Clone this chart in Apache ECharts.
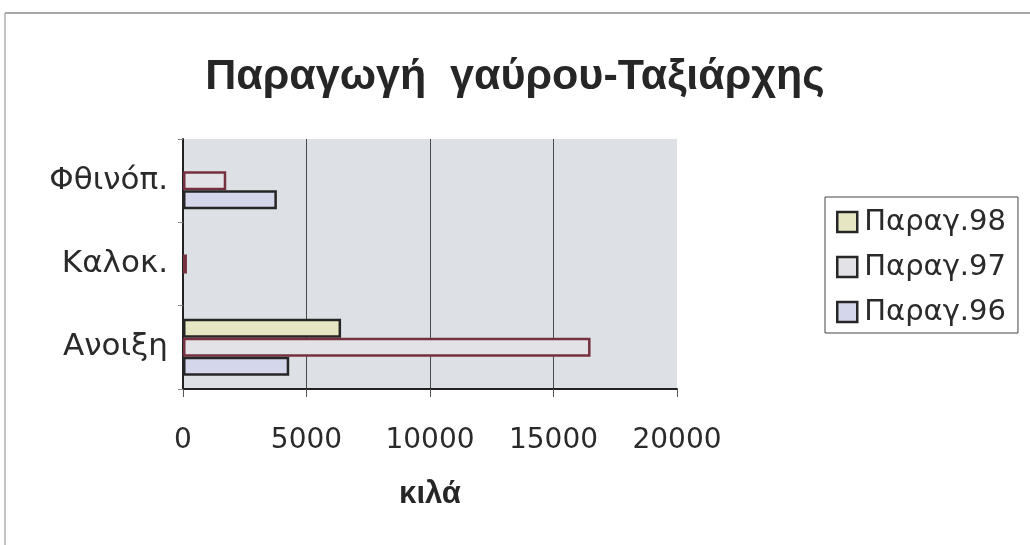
<!DOCTYPE html>
<html>
<head>
<meta charset="utf-8">
<script src="https://cdn.jsdelivr.net/npm/echarts@6/dist/echarts.min.js"></script>
<style>
  html, body { margin: 0; padding: 0; background: #fff; }
  #chart { width: 1030px; height: 545px; }
</style>
</head>
<body>
<div id="chart"></div>
<script>
// εποχές (από κάτω προς τα πάνω)
const seasons = ['Ανοιξη', 'Καλοκ.', 'Φθινόπ.']
// παραγωγή σε κιλά ανά εποχή
const prod98 = [6400, 0, 0]
const prod97 = [16500, 160, 1750]
const prod96 = [4300, 0, 3800]
const xTicks = [0, 5000, 10000, 15000, 20000]

// η πρώτη σειρά μπαίνει πάνω μέσα στην κατηγορία
const seriesNames = ['Παραγ.98', 'Παραγ.97', 'Παραγ.96']
const seriesValues = [prod98, prod97, prod96]
const fills = ['#e6e6c2', '#e3e3e7', '#d4d6ec']
const borders = ['#262626', '#76303f', '#262626']

const myChart = echarts.init(document.getElementById('chart'))

const option = {
  backgroundColor: '#fff',
  animation: false,
  title: {
    text: 'Παραγωγή  γαύρου-Ταξιάρχης',
    left: 'center',
    top: 51,
    textStyle: {
      fontFamily: 'Liberation Sans',
      fontWeight: 'bold',
      fontSize: 43,
      color: '#262626'
    }
  },
  legend: {
    orient: 'vertical',
    left: 825,
    top: 197,
    width: 193,
    padding: [10, 12, 6, 11],
    itemGap: 15,
    itemWidth: 20,
    itemHeight: 20,
    icon: 'rect',
    borderColor: '#444',
    borderWidth: 1,
    data: seriesNames,
    itemStyle: { borderColor: '#262626', borderWidth: 2.5 },
    textStyle: {
      fontFamily: 'DejaVu Sans',
      fontSize: 29,
      lineHeight: 30,
      color: '#2a2a2a',
      padding: [0, 0, 0, 2]
    }
  },
  graphic: [
    { type: 'line', shape: { x1: 5, y1: 13, x2: 1030, y2: 13 }, style: { stroke: '#8a8a8a', lineWidth: 1.5 } },
    { type: 'line', shape: { x1: 5, y1: 13, x2: 5, y2: 545 }, style: { stroke: '#b0b0b0', lineWidth: 1.5 } }
  ],
  grid: {
    left: 183,
    right: 353,
    top: 139,
    bottom: 156,
    show: true,
    backgroundColor: '#dde0e5',
    borderWidth: 0
  },
  xAxis: {
    type: 'value',
    min: xTicks[0],
    max: xTicks[xTicks.length - 1],
    interval: 5000,
    name: 'κιλά',
    nameLocation: 'middle',
    nameGap: 90,
    nameTextStyle: {
      fontFamily: 'Liberation Sans',
      fontWeight: 'bold',
      fontSize: 31,
      color: '#262626'
    },
    axisLine: { show: true, lineStyle: { color: '#222', width: 2 } },
    axisTick: { show: true, length: 8, lineStyle: { color: '#555' } },
    axisLabel: {
      margin: 38,
      fontFamily: 'DejaVu Sans',
      fontSize: 28,
      color: '#2a2a2a',
      formatter: (v) => String(v)
    },
    splitLine: {
      show: true,
      showMinLine: false,
      showMaxLine: false,
      lineStyle: { color: '#4a4a4a', width: 1 }
    }
  },
  yAxis: {
    type: 'category',
    data: seasons,
    axisLine: { show: true, lineStyle: { color: '#222', width: 2 } },
    axisTick: { show: true, length: 5, lineStyle: { color: '#888' } },
    axisLabel: {
      margin: 15,
      fontFamily: 'DejaVu Sans',
      fontSize: 31,
      color: '#2a2a2a'
    }
  },
  series: seriesNames.map((name, i) => ({
    name: name,
    type: 'bar',
    // μηδενικές τιμές δεν σχεδιάζονται (αλλιώς φαίνεται το περίγραμμα)
    data: seriesValues[i].map(v => (v === 0 ? '-' : v)),
    barWidth: 19,
    barGap: '0%',
    itemStyle: {
      color: fills[i],
      borderColor: borders[i],
      borderWidth: 2.5
    }
  }))
}

myChart.setOption(option)
</script>
</body>
</html>
